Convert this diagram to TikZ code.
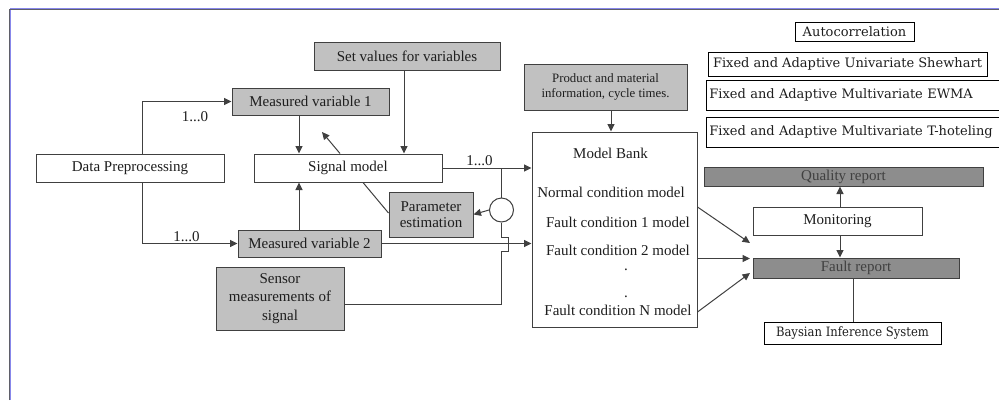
\documentclass[tikz,border=0pt]{standalone}
\usepackage{fontspec}
\setmainfont{Liberation Serif}
\newfontfamily\methodFont{DejaVu Serif}
\newfontfamily\bayesFont[FakeStretch=0.9]{DejaVu Serif}
\usetikzlibrary{arrows.meta}
\tikzstyle{canvas} = [x = 1pt, y = -1pt]
\definecolor{lineColor}{RGB}{64,64,64}
\definecolor{boxGray}{RGB}{193,193,193}
\definecolor{reportGray}{RGB}{141,141,141}
\definecolor{frameGray}{RGB}{95,95,105}
\definecolor{frameBlue}{RGB}{135,135,235}
\definecolor{textColor}{RGB}{30,30,30}
\newcommand{\mainSize}{\fontsize{15}{16.5}\selectfont}
\newcommand{\sensorSize}{\fontsize{15}{18.5}\selectfont}
\newcommand{\productSize}{\fontsize{12.8}{14.5}\selectfont}
\newcommand{\methodSize}{\fontsize{13}{15}\selectfont}
\newcommand{\bayesSize}{\fontsize{12.9}{15}\selectfont}
\tikzstyle{boxBase} = [draw=lineColor, line width=1pt, inner sep=0pt, align=center, text=textColor, font=\mainSize]
\tikzstyle{whiteBox} = [boxBase, fill=white]
\tikzstyle{grayBox} = [boxBase, fill=boxGray]
\tikzstyle{reportBox} = [boxBase, fill=reportGray, text=lineColor]
\tikzstyle{methodBox} = [draw=black, line width=0.8pt, fill=white, inner sep=0pt, text=textColor, font=\methodFont\methodSize]
\tikzstyle{bankText} = [text=textColor, font=\mainSize, inner sep=0pt]
\tikzstyle{countLabel} = [text=textColor, font=\mainSize, inner sep=0pt]
\tikzstyle{wire} = [draw=lineColor, line width=1pt]
\tikzstyle{arrowWire} = [wire, -{Triangle[length=7.5pt, width=7pt]}]
\newcommand{\flowBox}[6]{\node [#1, minimum width = #4pt, minimum height = #5pt] (#2) at (#3) {#6};}
\newcommand{\bankLine}[3]{\node [bankText] (#1) at (#2) {#3};}

\begin{document}
\begin{tikzpicture}[canvas]
  \useasboundingbox (0,0) rectangle (999,400);
  % frame
  \draw [frameGray, line width=1.3pt] (9.5,400) -- (9.5,9.6) -- (999,9.6);
  \draw [frameBlue, line width=0.8pt] (10,8.5) -- (999,8.5);
  \draw [frameBlue, line width=0.8pt] (10.5,10.3) -- (10.5,400);

  % left part
  \flowBox{grayBox}{setValues}{407,56}{186}{28}{Set values for variables}
  \flowBox{grayBox}{measuredOne}{310.5,101.5}{157}{27}{Measured variable 1}
  \flowBox{whiteBox}{dataPrep}{130,168}{188}{28}{Data Preprocessing}
  \flowBox{whiteBox}{signalModel}{348,168}{188}{28}{Signal model}
  \flowBox{grayBox}{measuredTwo}{309.5,243.5}{143}{27}{Measured variable 2}
  \flowBox{grayBox}{paramEst}{431,214.5}{84}{45}{Parameter\\estimation}
  \flowBox{grayBox, font=\sensorSize}{sensorMeas}{280,298.5}{128}{63}{Sensor\\measurements of\\signal}
  \node [draw=lineColor, line width=1pt, fill=white, circle, minimum size=24pt, inner sep=0pt] (feedbackValve) at (501.5,210) {};
  \node [countLabel] (countOne) at (195,117) {1...0};
  \node [countLabel] (countTwo) at (186.5,237) {1...0};
  \node [countLabel] (countThree) at (479.5,161) {1...0};

  % model bank
  \flowBox{grayBox, font=\productSize}{productInfo}{605.5,87}{163}{46}{Product and material\\information, cycle times.}
  \flowBox{whiteBox}{modelBank}{614.5,229.5}{165}{195}{}
  \bankLine{bankTitle}{610.5,153}{Model Bank}
  \bankLine{normalModel}{611,192}{Normal condition model}
  \bankLine{faultOne}{618,222}{Fault condition 1 model}
  \bankLine{faultTwo}{618,250}{Fault condition 2 model}
  \bankLine{dotOne}{626,270}{.}
  \bankLine{dotTwo}{626,297}{.}
  \bankLine{faultN}{618,310}{Fault condition N model}

  % right part
  \flowBox{reportBox}{qualityReport}{843.5,176.5}{279}{19}{Quality report}
  \flowBox{whiteBox}{monitoring}{837.5,221}{169}{28}{Monitoring}
  \flowBox{reportBox}{faultReport}{856,268}{206}{20}{Fault report}
  \flowBox{methodBox, font=\bayesFont\bayesSize}{bayes}{852.5,333}{177}{22}{Baysian Inference System}
  \flowBox{methodBox}{autoCorr}{854.5,31.5}{119}{19}{Autocorrelation}
  \flowBox{methodBox}{shewhart}{847.5,64}{279}{24}{Fixed and Adaptive Univariate Shewhart}
  \node [methodBox, anchor=west, minimum height=30pt, text width=304pt, inner xsep=3pt, align=left] (ewma) at (706,95) {Fixed and Adaptive Multivariate EWMA};
  \node [methodBox, anchor=west, minimum height=30pt, text width=304pt, inner xsep=3pt, align=left] (hoteling) at (706,132) {Fixed and Adaptive Multivariate T-hoteling};

  \coordinate (estTip) at (322,132);
  \coordinate (faultInA) at (750,243);
  \coordinate (faultInB) at (750,258.5);
  \coordinate (faultInC) at (750,273);

  % connectors
  \draw [arrowWire] ([xshift=12pt]dataPrep.north) |- (measuredOne.west);
  \draw [arrowWire] ([xshift=12pt]dataPrep.south) |- (measuredTwo.west);
  \draw [arrowWire] (299,0 |- measuredOne.south) -- (299,0 |- signalModel.north);
  \draw [arrowWire] (299,0 |- measuredTwo.north) -- (299,0 |- signalModel.south);
  \draw [arrowWire] (404,0 |- setValues.south) -- (404,0 |- signalModel.north);
  \draw [arrowWire] (340,0 |- signalModel.north) -- (estTip);
  \draw [wire] (363,0 |- signalModel.south) -- ([yshift=1.5pt]paramEst.west);
  \draw [arrowWire] (signalModel.east) -- (signalModel.east -| modelBank.west);
  \draw [wire] (feedbackValve.north |- signalModel.east) -- (feedbackValve.north);
  \draw [arrowWire] (feedbackValve.west) -- (paramEst.east);
  \draw [arrowWire] (measuredTwo.east) -- (measuredTwo.east -| modelBank.west);
  \draw [wire] ([yshift=-5.5pt]sensorMeas.east) -| (feedbackValve.south |- 0,251) -- ++(7,0) -- ++(0,-14) -| (feedbackValve.south);
  \draw [arrowWire] (611,0 |- productInfo.south) -- (611,0 |- modelBank.north);
  \draw [arrowWire] ([yshift=22.5pt]modelBank.east) -- (faultInA);
  \draw [arrowWire] ([yshift=-29pt]modelBank.east) -- (faultInB);
  \draw [arrowWire] ([yshift=-82.5pt]modelBank.east) -- (faultInC);
  \draw [arrowWire] (840,0 |- monitoring.north) -- (840,0 |- qualityReport.south);
  \draw [arrowWire] (840,0 |- monitoring.south) -- (840,0 |- faultReport.north);
  \draw [wire] (853,0 |- faultReport.south) -- (853,0 |- bayes.north);
\end{tikzpicture}
\end{document}
